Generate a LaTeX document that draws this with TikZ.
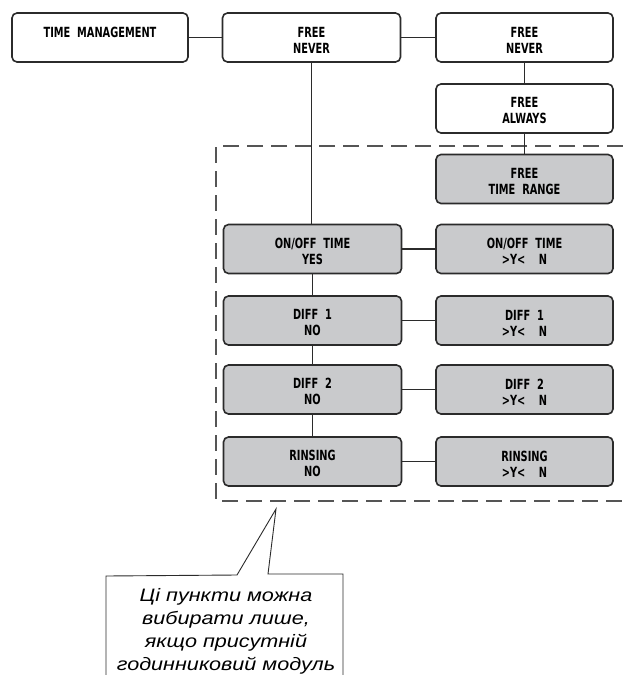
\documentclass[tikz,border=0pt]{standalone}
\usepackage{fontspec}
\setmainfont{Liberation Sans}
\newfontfamily\lcdfont[FakeStretch=0.7]{DejaVu Sans}
\newfontfamily\notefont[FakeStretch=1.2]{Liberation Sans}
\usetikzlibrary{positioning}
\definecolor{boxgray}{HTML}{C9CACC}
\definecolor{edge}{HTML}{2B2B2B}
\newcommand{\boxtxt}[2]{\rule{0pt}{15pt}#1\\#2}
\tikzset{
  menubox/.style={draw=edge, line width=1.6pt, rounded corners=5pt, fill=white,
    minimum width=178pt, minimum height=49pt, inner sep=0pt, align=center,
    font=\lcdfont\bfseries\fontsize{14}{16}\selectfont, text=black},
  shadebox/.style={menubox, fill=boxgray},
  link/.style={draw=edge, line width=1.1pt},
  region/.style={draw=edge!80, line width=1.3pt, dash pattern=on 16pt off 8pt},
  callout/.style={draw=edge, line width=0.9pt}
}
\begin{document}
\begin{tikzpicture}[x=1pt,y=-1pt]
\useasboundingbox (0,0) rectangle (623,675);
\fill[white] (0,0) rectangle (623,675);

% dashed region (open at right edge)
\draw[region] (623,146) -- (216,146) -- (216,501) -- (623,501);

% column 1
\node[menubox, minimum width=176pt] (tm) at (100,37.5) {\boxtxt{TIME\ \ MANAGEMENT}{\mbox{}}};
% column 2
\node[menubox] (fn1) at (311.5,37.5) {\boxtxt{FREE}{NEVER}};
\node[shadebox] (on1) at (312.5,249) {\boxtxt{ON/OFF\ \ TIME}{YES}};
\node[shadebox] (d11) at (312.5,320.5) {\boxtxt{DIFF\ \ 1}{NO}};
\node[shadebox] (d21) at (312.5,389.5) {\boxtxt{DIFF\ \ 2}{NO}};
\node[shadebox] (rn1) at (312.5,461.5) {\boxtxt{RINSING}{NO}};
% column 3
\node[menubox, minimum width=177pt] (fn2) at (524.5,37.5) {\boxtxt{FREE}{NEVER}};
\node[menubox, minimum width=177pt] (fa2) at (524.5,108.5) {\boxtxt{FREE}{ALWAYS}};
\node[shadebox, minimum width=177pt] (tr2) at (524.5,179) {\boxtxt{FREE}{TIME\ \ RANGE}};
\node[shadebox, minimum width=177pt] (on2) at (524.5,249) {\boxtxt{ON/OFF\ \ TIME}{>Y<\ \ \ \ N}};
\node[shadebox, minimum width=177pt] (d12) at (524.5,320.5) {\boxtxt{DIFF\ \ 1}{>Y<\ \ \ \ N}};
\node[shadebox, minimum width=177pt] (d22) at (524.5,389.5) {\boxtxt{DIFF\ \ 2}{>Y<\ \ \ \ N}};
\node[shadebox, minimum width=177pt] (rn2) at (524.5,461.5) {\boxtxt{RINSING}{>Y<\ \ \ \ N}};

% connectors
\draw[link] (tm.east) -- (fn1.west);
\draw[link] (fn1.east) -- (fn2.west);
\draw[link] (fn1.south) -- (fn1.south |- on1.north);
\draw[link] (on1.south) -- (d11.north);
\draw[link] (d11.south) -- (d21.north);
\draw[link] (d21.south) -- (rn1.north);
\draw[link] (fn2.south) -- (fa2.north);
\draw[link] (fa2.south) -- (tr2.north);
\draw[link] (on1.east) -- (on2.west);
\draw[link] (d11.east) -- (d12.west);
\draw[link] (d21.east) -- (d22.west);
\draw[link] (rn1.east) -- (rn2.west);

% callout
\coordinate (tip) at (276,509);
\draw[callout, fill=white] (106,676) -- (106,576) -- (237,575) -- (tip) -- (268,574) -- (343,574) -- (343,676);
\node[font=\notefont\itshape\fontsize{18}{22.8}\selectfont, align=center, anchor=base, inner sep=0pt] (note) at (226,670)
  {Ці пункти можна\\вибирати лише,\\якщо присутній\\годинниковий модуль};
\end{tikzpicture}
\end{document}
